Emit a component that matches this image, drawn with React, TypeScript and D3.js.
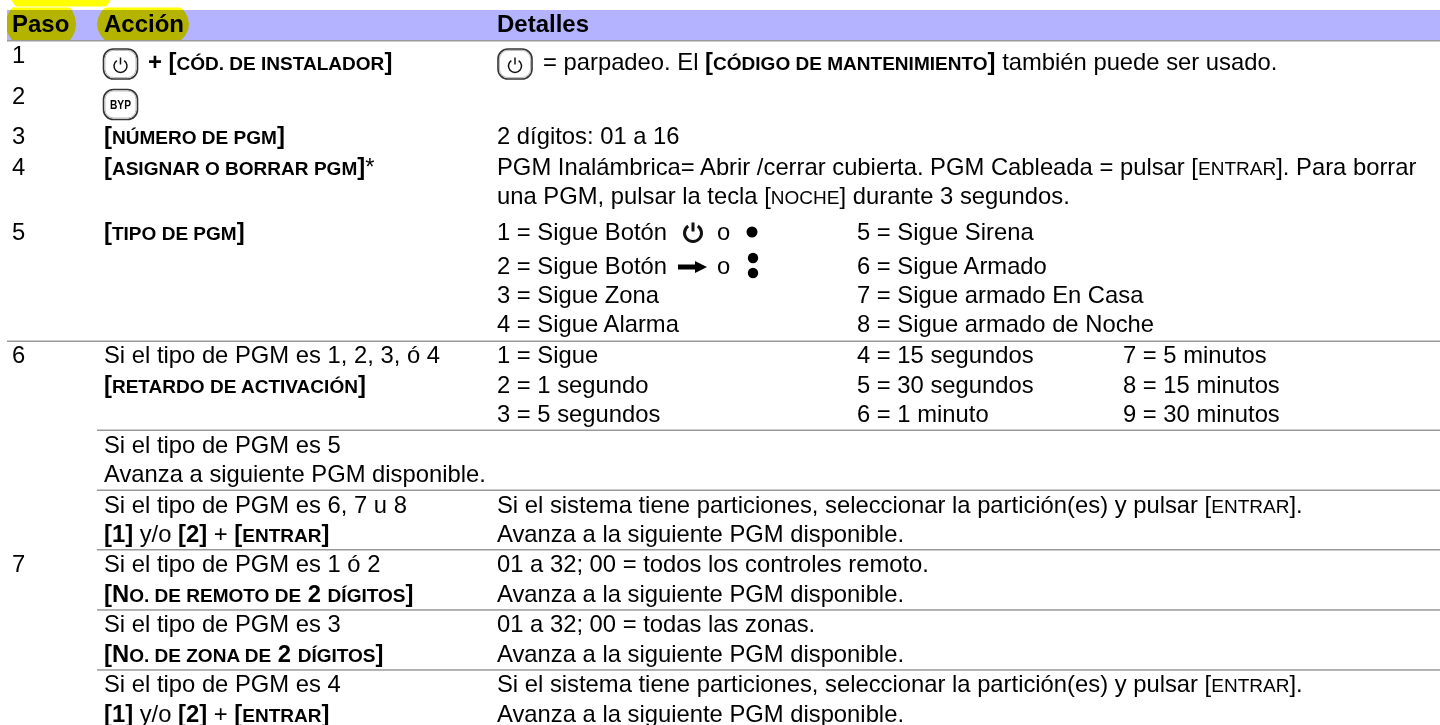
import * as d3 from 'd3';

const headers = ['Paso', 'Acción', 'Detalles'];
const stepLabels = ['1', '2', '3', '4', '5', '6', '7'];

// ** toggles bold, ~ toggles the smaller capitals
const actionLines = [
  '**+ [~CÓD. DE INSTALADOR~]**',
  '**[~NÚMERO DE PGM~]**',
  '**[~ASIGNAR O BORRAR PGM~]***',
  '**[~TIPO DE PGM~]**',
  'Si el tipo de PGM es 1, 2, 3, ó 4',
  '**[~RETARDO DE ACTIVACIÓN~]**',
  'Si el tipo de PGM es 5',
  'Avanza a siguiente PGM disponible.',
  'Si el tipo de PGM es 6, 7 u 8',
  '**[1]** y/o **[2]** + **[~ENTRAR~]**',
  'Si el tipo de PGM es 1 ó 2',
  '**[N~O. DE REMOTO DE~ 2 ~DÍGITOS~]**',
  'Si el tipo de PGM es 3',
  '**[N~O. DE ZONA DE~ 2 ~DÍGITOS~]**',
  'Si el tipo de PGM es 4',
  '**[1]** y/o **[2]** + **[~ENTRAR~]**',
];
const detailLines = [
  '= parpadeo. El **[~CÓDIGO DE MANTENIMIENTO~]** también puede ser usado.',
  '2 dígitos: 01 a 16',
  'PGM Inalámbrica= Abrir /cerrar cubierta. PGM Cableada = pulsar [~ENTRAR~]. Para borrar',
  'una PGM, pulsar la tecla [~NOCHE~] durante 3 segundos.',
  'Si el sistema tiene particiones, seleccionar la partición(es) y pulsar [~ENTRAR~].',
  'Avanza a la siguiente PGM disponible.',
  '01 a 32; 00 = todos los controles remoto.',
  'Avanza a la siguiente PGM disponible.',
  '01 a 32; 00 = todas las zonas.',
  'Avanza a la siguiente PGM disponible.',
  'Si el sistema tiene particiones, seleccionar la partición(es) y pulsar [~ENTRAR~].',
  'Avanza a la siguiente PGM disponible.',
];
const pgmTypesLeft = ['1 = Sigue Botón', '2 = Sigue Botón', '3 = Sigue Zona', '4 = Sigue Alarma'];
const pgmTypesRight = ['5 = Sigue Sirena', '6 = Sigue Armado', '7 = Sigue armado En Casa', '8 = Sigue armado de Noche'];
const delaysA = ['1 = Sigue', '2 = 1 segundo', '3 = 5 segundos'];
const delaysB = ['4 = 15 segundos', '5 = 30 segundos', '6 = 1 minuto'];
const delaysC = ['7 = 5 minutos', '8 = 15 minutos', '9 = 30 minutos'];

// layout, kept apart from the content
const stepY = [62.5, 104, 144, 175, 240, 363, 572];
const actionY = [70, 144, 175, 240, 363, 393, 452.5, 482, 512.5, 542, 572, 601.5, 632, 661.5, 692, 721.5];
const detailY = [70, 144, 174.5, 203.5, 512.5, 542, 572, 601.5, 632, 661.5, 692, 721.5];
const typeY = [240, 274, 303, 332];
const delayY = [363, 393, 422];
const rules: [number, number][] = [[340.5, 7], [429.5, 97], [489.5, 97], [549, 97], [609.2, 97], [669.2, 97]];

const columns = d3.scaleOrdinal<string, number>().domain(['step', 'action', 'detail', 'mid', 'last']).range([12, 104, 497, 857, 1123]);
const FONT = '"Liberation Sans", Arial, sans-serif';
const BODY = 23.8;

function Rich({ text, x, y, size = BODY }: { text: string; x: number; y: number; size?: number }) {
  const spans: { t: string; bold: boolean; small: boolean }[] = [];
  let bold = false, small = false;
  text.split(/(\*\*|~)/).forEach(part => {
    if (part === '**') bold = !bold;
    else if (part === '~') small = !small;
    else if (part) spans.push({ t: part, bold, small });
  });
  return (
    <text x={x} y={y} fontSize={size} fill="#000" xmlSpace="preserve">
      {spans.map((s, i) => (
        <tspan key={i} fontWeight={s.bold ? 700 : 400} fontSize={s.small ? size * 0.8 : size}>{s.t}</tspan>
      ))}
    </text>
  );
}

function Key({ x, y, label }: { x: number; y: number; label?: string }) {
  return (
    <g transform={`translate(${x},${y})`}>
      <rect x={1} y={1} width={34} height={30} rx={10} fill="#fff" stroke="#333" strokeWidth={1.6} />
      <rect x={2.5} y={2.5} width={31} height={27} rx={8.5} fill="none" stroke="#bbb" strokeWidth={1} />
      {label ? (
        <text x={18} y={20.5} textAnchor="middle" fontSize={12} fontWeight={700} textLength={21} lengthAdjust="spacingAndGlyphs">{label}</text>
      ) : (
        <Power cx={18} cy={18} r={6.5} w={1.5} />
      )}
    </g>
  );
}

function Power({ cx, cy, r, w }: { cx: number; cy: number; r: number; w: number }) {
  const arc = d3.arc()({ innerRadius: r, outerRadius: r, startAngle: 0.6, endAngle: Math.PI * 2 - 0.6 }) ?? '';
  return (
    <g transform={`translate(${cx},${cy})`} fill="none" stroke="#111" strokeWidth={w}>
      <path d={arc} />
      <line x1={0} x2={0} y1={-r - 2} y2={-1.5} />
    </g>
  );
}

export default function App() {
  return (
    <svg width={1440} height={725} style={{ position: 'fixed', left: 0, top: 0, background: '#fff' }} fontFamily={FONT}>
      <defs>
        <clipPath id="topStrip"><rect x={0} y={0} width={200} height={6.5} /></clipPath>
        <clipPath id="headBand"><rect x={7} y={7.5} width={400} height={33} /></clipPath>
      </defs>
      <rect x={7} y={10} width={1433} height={30} fill="#b3b3ff" />
      <ellipse cx={61} cy={-5} rx={50.5} ry={25} fill="#ffff00" clipPath="url(#topStrip)" />
      <g clipPath="url(#headBand)" style={{ mixBlendMode: 'multiply' }}>
        <ellipse cx={41} cy={24} rx={35} ry={29} fill="#ffff00" />
        <ellipse cx={143} cy={24} rx={46} ry={29} fill="#ffff00" />
      </g>
      <rect x={7} y={40} width={1433} height={1.5} fill="#999" />
      <Rich text={`**${headers[0]}**`} x={columns('step')} y={32} size={24} />
      <Rich text={`**${headers[1]}**`} x={columns('action')} y={32} size={24} />
      <Rich text={`**${headers[2]}**`} x={columns('detail')} y={32} size={24} />

      {stepLabels.map((s, i) => <Rich key={s} text={s} x={columns('step')} y={stepY[i]} />)}

      <Key x={102.5} y={48} />
      <Key x={102.5} y={88.5} label="BYP" />
      <Key x={497} y={48} />

      {actionLines.map((t, i) => (
        <Rich key={i} text={t} x={columns('action') + (i === 0 ? 44 : 0)} y={actionY[i]} />
      ))}
      {detailLines.map((t, i) => (
        <Rich key={i} text={t} x={columns('detail') + (i === 0 ? 46 : 0)} y={detailY[i]} />
      ))}

      {pgmTypesLeft.map((t, i) => <Rich key={t} text={t} x={columns('detail')} y={typeY[i]} />)}
      {pgmTypesRight.map((t, i) => <Rich key={t} text={t} x={columns('mid')} y={typeY[i]} />)}
      <Power cx={693} cy={233} r={8.5} w={3} />
      <text x={717} y={240} fontSize={BODY}>o</text>
      <circle cx={752} cy={232} r={5.5} fill="#000" />
      <path d="M678 264.5h17v-3.5l12 6-12 6v-3.5h-17z" fill="#000" />
      <text x={717} y={274} fontSize={BODY}>o</text>
      <circle cx={753} cy={258} r={5.2} fill="#000" />
      <circle cx={753} cy={273} r={5.2} fill="#000" />

      {delaysA.map((t, i) => <Rich key={t} text={t} x={columns('detail')} y={delayY[i]} />)}
      {delaysB.map((t, i) => <Rich key={t} text={t} x={columns('mid')} y={delayY[i]} />)}
      {delaysC.map((t, i) => <Rich key={t} text={t} x={columns('last')} y={delayY[i]} />)}

      {rules.map(([y, x0]) => <rect key={y} x={x0} y={y} width={1440 - x0} height={1.5} fill="#999" />)}
    </svg>
  );
}
